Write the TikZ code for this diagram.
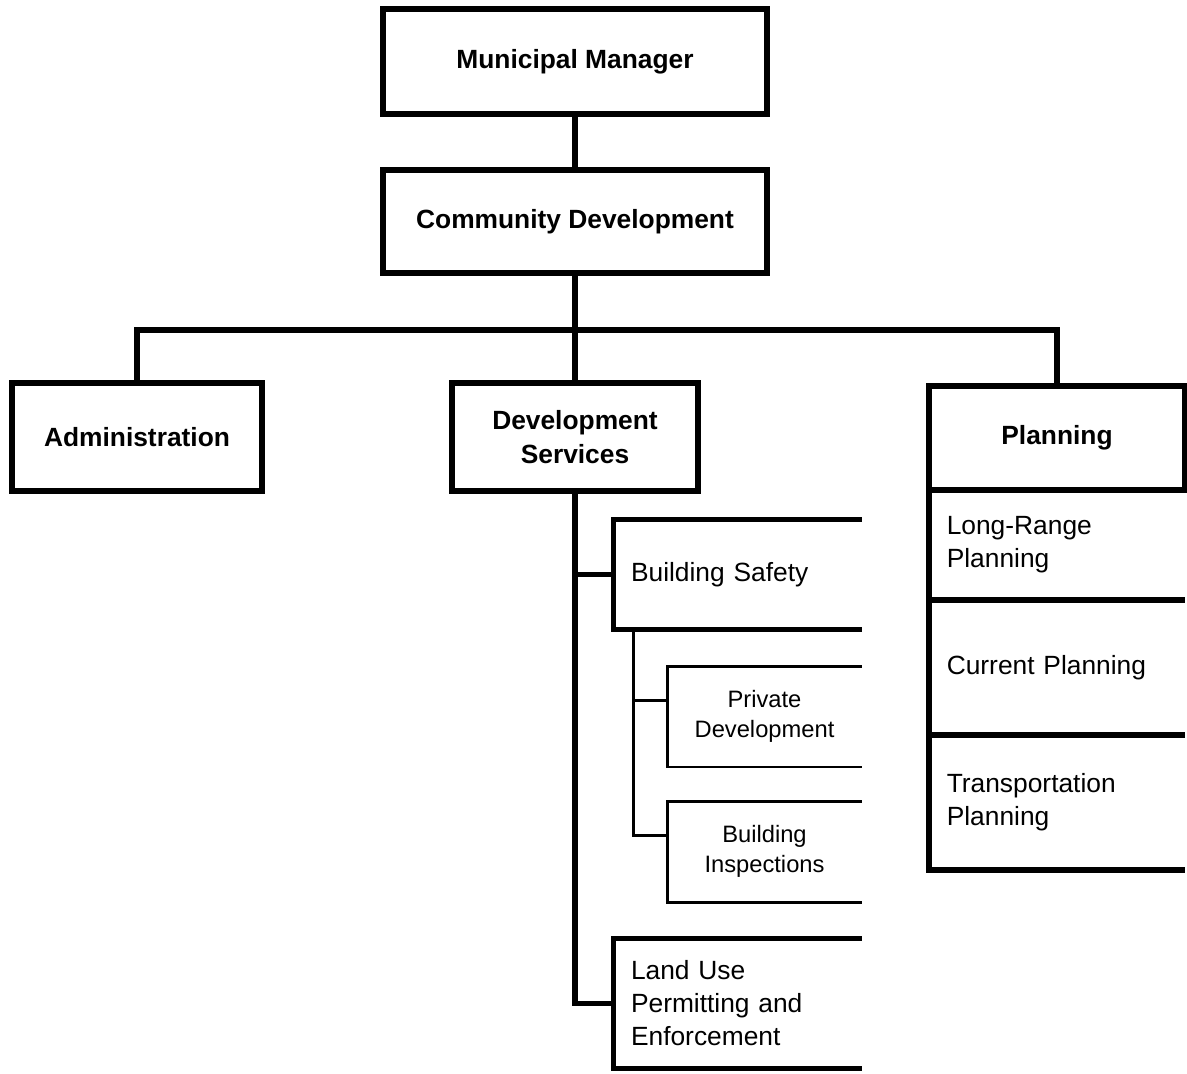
\documentclass[tikz,border=0pt]{standalone}
\usepackage{fontspec}
\setmainfont{Liberation Sans}
\tikzset{
  thickline/.style={line width=3.3pt},
  thinline/.style={line width=1.7pt},
  headbox/.style={draw, thickline, font=\fontsize{15}{19.3}\selectfont\bfseries, align=center},
  unitbox/.style={thickline, outer sep=0pt, font=\fontsize{15}{18.8}\selectfont, align=left, inner xsep=0.35cm},
  subbox/.style={thinline, outer sep=0pt, font=\fontsize{13.5}{17}\selectfont, align=center},
}

\begin{document}
\begin{tikzpicture}[x=0.02cm, y=-0.02cm]
    \useasboundingbox (0,0) rectangle (1187,1073);

    % top of the chart
    \node[headbox, minimum width=7.68cm, minimum height=2.1cm] (mm) at (575,61.5) {Municipal Manager};
    \node[headbox, minimum width=7.68cm, minimum height=2.06cm] (cd) at (575,221.5) {Community Development};
    \coordinate (bus) at (575,330);

    % divisions
    \node[headbox, minimum width=5cm, minimum height=2.16cm] (admin) at (137,437) {Administration};
    \node[headbox, minimum width=4.92cm, minimum height=2.16cm] (ds) at (575,437) {Development\\Services};
    \node[headbox, minimum width=5.11cm, minimum height=2.08cm] (plan) at (1057,438) {Planning};

    % planning units
    \node[unitbox, text width=4.41cm, minimum height=2.2cm] (lr) at (1057,545) {Long-Range\\Planning};
    \node[unitbox, text width=4.41cm, minimum height=2.7cm] (cp) at (1057,667.5) {Current Planning};
    \node[unitbox, text width=4.41cm, minimum height=2.7cm] (tp) at (1057,802.5) {Transportation\\Planning};

    % development services units
    \node[unitbox, text width=4.27cm, minimum height=2.2cm] (bs) at (737.75,574.5) {Building Safety};
    \node[subbox, minimum width=3.9cm, minimum height=2.02cm] (pd) at (764.5,716.5) {Private\\Development};
    \node[subbox, minimum width=3.9cm, minimum height=2.02cm] (bi) at (764.5,851.5) {Building\\Inspections};
    \node[unitbox, text width=4.27cm, minimum height=2.6cm] (lu) at (737.75,1003.5) {Land Use\\Permitting and\\Enforcement};

    % boxes open on the right
    \foreach \n in {lr,cp,tp,bs,lu}
        \draw[thickline] (\n.north east) -- (\n.north west) -- (\n.south west) -- (\n.south east);
    \foreach \n in {pd,bi}
        \draw[thinline] (\n.north east) -- (\n.north west) -- (\n.south west) -- (\n.south east);

    % connectors
    \draw[thickline] (mm) -- (cd);
    \draw[thickline] (cd.south) -- (bus);
    \draw[thickline] (admin.north) |- (bus) -| (plan.north);
    \draw[thickline] (bus) -- (ds.north);
    \draw[thickline] (ds.south) |- (lu.west);
    \draw[thickline] (bs.west) -- (bs.west -| ds.south);
    \coordinate (bsfoot) at (633,630);
    \draw[thinline] (bsfoot) |- ([yshift=0.32cm]bi.west);
    \draw[thinline] ([yshift=0.32cm]pd.west) -- ([yshift=0.32cm]pd.west -| bsfoot);

\end{tikzpicture}
\end{document}
